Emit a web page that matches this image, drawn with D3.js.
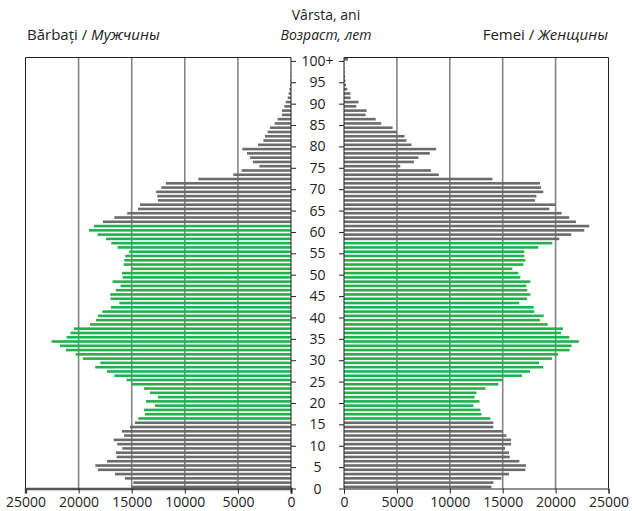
<!DOCTYPE html>
<html><head><meta charset="utf-8">
<script src="https://cdn.jsdelivr.net/npm/d3@7"></script>
<style>
html,body{margin:0;padding:0;background:#fff;}
svg{display:block;font-family:"Open Sans","Noto Sans",sans-serif;}
</style></head>
<body><svg id="c" width="632" height="511"></svg>
<script>
const ages = [0,1,2,3,4,5,6,7,8,9,10,11,12,13,14,15,16,17,18,19,20,21,22,23,24,25,26,27,28,29,30,31,32,33,34,35,36,37,38,39,40,41,42,43,44,45,46,47,48,49,50,51,52,53,54,55,56,57,58,59,60,61,62,63,64,65,66,67,68,69,70,71,72,73,74,75,76,77,78,79,80,81,82,83,84,85,86,87,88,89,90,91,92,93,94,95,96,97,98,99,100];
const ageTicks = [0,5,10,15,20,25,30,35,40,45,50,55,60,65,70,75,80,85,90,95,100];
const ageTickLabels = ["0","5","10","15","20","25","30","35","40","45","50","55","60","65","70","75","80","85","90","95","100+"];
const valueTicks = [0,5000,10000,15000,20000,25000];
const men = [15000,14850,15640,16580,18180,18430,17330,16420,16490,15890,16360,16700,15730,15920,15170,14700,14380,13750,13850,12810,13660,12530,13280,13850,14980,15480,16640,17330,18430,17960,19590,20280,21200,21760,22550,21130,20760,20440,18930,18370,18180,17770,16960,16170,16990,17020,16490,16050,16800,15860,15920,15070,15750,15700,15610,15230,16330,16920,17430,18210,19030,18560,17710,16640,15420,14410,14220,12530,12590,12690,12210,11780,8730,5430,4650,2980,3580,3860,4150,4580,3110,2600,2450,2200,1980,1540,1260,850,850,630,500,310,220,150,90,60,40,25,15,10,20];
const women = [13930,14120,14880,15600,17140,17200,16570,15660,15600,15220,15790,15790,15350,15000,14120,14120,13840,12990,12890,12230,12800,12330,12520,13370,14590,15000,16830,17580,18840,18430,19660,20220,21320,21510,22200,21290,20510,20690,19250,18520,18870,17990,17930,16570,17300,17610,17330,17230,17610,16670,16480,15910,16950,17140,17050,17050,18370,19690,20350,21480,22710,23180,21920,21290,20570,19400,19970,18050,18180,18840,18620,18520,14030,8960,8210,5320,6600,7040,8110,8710,6380,5910,5720,5000,4590,3520,2990,2040,2140,1160,1380,630,600,310,190,130,90,60,40,30,380];
const menWorkAges = [16,61];
const womenWorkAges = [16,57];
const titleMen = ["Bărbați / ","Мужчины"];
const titleWomen = ["Femei / ","Женщины"];
const titleAge = ["Vârsta, ani","Возраст, лет"];

const GRAY = "#6b6b6b", GREEN = "#22b14c";
const svg = d3.select("#c");
const frameTop = 57.5, yBot = 488.5;
const xL = d3.scaleLinear().domain([0,25000]).range([291,25.5]);
const xR = d3.scaleLinear().domain([0,25000]).range([344,608.5]);
const y = d3.scaleLinear().domain([0,100]).range([yBot,60.9]);
const barH = 2.6, barOff = 1.6;

// gridlines
[xL,xR].forEach(sc=>{
  svg.append("g").selectAll("line").data(valueTicks.filter(v=>v>0&&v<25000)).join("line")
    .attr("x1",d=>sc(d)).attr("x2",d=>sc(d)).attr("y1",frameTop).attr("y2",yBot)
    .attr("stroke","#858585").attr("stroke-width",1.6);
});

// bars
function drawBars(data, sc, work){
  svg.append("g").selectAll("rect").data(ages).join("rect")
    .attr("x",a=>Math.min(sc(0),sc(data[a])))
    .attr("width",a=>Math.abs(sc(data[a])-sc(0)))
    .attr("y",a=>y(a)-barOff-barH/2)
    .attr("height",barH)
    .attr("fill",a=>(a>=work[0]&&a<=work[1])?GREEN:GRAY);
}
drawBars(men,xL,menWorkAges);
drawBars(women,xR,womenWorkAges);

// frames
const frame = svg.append("g").attr("fill","none").attr("stroke","#222").attr("stroke-width",1);
frame.append("line").attr("x1",xL(25000)).attr("x2",xL(0)).attr("y1",frameTop).attr("y2",frameTop);
frame.append("line").attr("x1",xL(25000)).attr("x2",xL(25000)).attr("y1",frameTop).attr("y2",yBot);
frame.append("line").attr("x1",xR(0)).attr("x2",xR(25000)).attr("y1",frameTop).attr("y2",frameTop);
frame.append("line").attr("x1",xR(25000)).attr("x2",xR(25000)).attr("y1",frameTop).attr("y2",yBot);

// x axes
function xAxis(sc, thick){
  const g = svg.append("g").attr("transform",`translate(0,${yBot})`)
    .call(d3.axisBottom(sc).tickValues(valueTicks).tickFormat(d3.format("d")).tickSizeOuter(0).tickSize(5).tickPadding(4));
  g.select(".domain").attr("stroke",thick?"#555":"#222").attr("stroke-width",thick?2.4:1);
  g.selectAll(".tick line").attr("stroke","#222");
  g.selectAll("text").attr("font-size",14).attr("fill","#222").attr("font-family","Open Sans");
}
xAxis(xL,true); xAxis(xR,false);

// y axes (ticks only, labels in middle)
const ga = svg.append("g")
  .call(d3.axisRight(y).tickValues(ageTicks).tickFormat(()=>"").tickSizeOuter(0).tickSize(5));
ga.attr("transform",`translate(${xL(0)},0)`);
ga.select(".domain").remove();
ga.selectAll(".tick line").attr("stroke","#222");
svg.append("line").attr("x1",xL(0)).attr("x2",xL(0)).attr("y1",frameTop).attr("y2",yBot).attr("stroke","#222");
const gb = svg.append("g").attr("transform",`translate(${xR(0)},0)`)
  .call(d3.axisLeft(y).tickValues(ageTicks).tickFormat(()=>"").tickSizeOuter(0).tickSize(5));
gb.select(".domain").remove();
gb.selectAll(".tick line").attr("stroke","#222");
svg.append("line").attr("x1",xR(0)).attr("x2",xR(0)).attr("y1",frameTop).attr("y2",yBot).attr("stroke","#222");
svg.append("g").selectAll("text").data(ageTicks).join("text")
  .attr("x",(xL(0)+xR(0))/2).attr("y",d=>y(d)).attr("dy","0.36em")
  .attr("text-anchor","middle").attr("font-size",14).attr("fill","#222")
  .text((d,i)=>ageTickLabels[i]);

// titles
const tm = svg.append("text").attr("x",27).attr("y",39.5).attr("font-size",15).attr("fill","#222");
tm.append("tspan").text(titleMen[0]);
tm.append("tspan").attr("font-style","italic").text(titleMen[1]);
const tw = svg.append("text").attr("x",608).attr("y",39.5).attr("text-anchor","end").attr("font-size",15).attr("fill","#222");
tw.append("tspan").text(titleWomen[0]);
tw.append("tspan").attr("font-style","italic").text(titleWomen[1]);
svg.append("text").attr("x",326).attr("y",20).attr("text-anchor","middle").attr("font-size",14).attr("fill","#222").text(titleAge[0]);
svg.append("text").attr("x",326).attr("y",39.5).attr("text-anchor","middle").attr("font-size",14).attr("font-style","italic").attr("fill","#222").text(titleAge[1]);
</script></body></html>
